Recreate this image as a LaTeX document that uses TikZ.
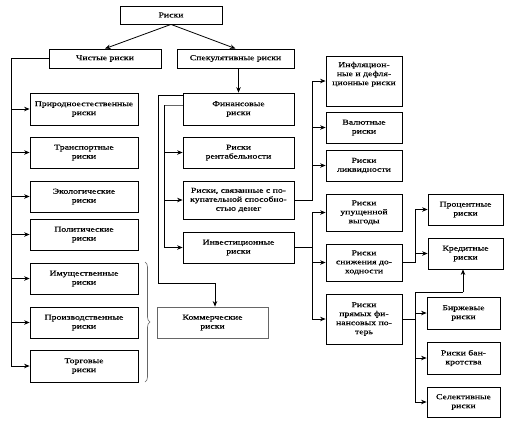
\documentclass[tikz,border=0pt]{standalone}
\usepackage{fontspec}
\setmainfont[FakeStretch=1.3,FakeBold=0.5]{Liberation Serif}
\usetikzlibrary{arrows.meta,decorations.pathreplacing}
\begin{document}
\begin{tikzpicture}[x=1pt,y=-1pt,
  bx/.style={draw, line width=0.8pt, align=center, inner sep=1pt,
    font=\fontsize{7.5}{9}\selectfont},
  ln/.style={line width=0.8pt},
  arr/.style={ln, -{Stealth[length=5.5pt,width=4.5pt]}},
  grayln/.style={line width=0.8pt, draw=black!60}]
\useasboundingbox[fill=white] (0,0) rectangle (508,421);

% top
\node[bx, minimum width=102pt, minimum height=18pt] (risk) at (171,15) {Риски};
\node[bx, minimum width=112pt, minimum height=19pt] (chist) at (105,58.5) {Чистые риски};
\node[bx, minimum width=117pt, minimum height=19pt] (spek) at (235.5,58.5) {Спекулятивные риски};

% left column
\node[bx, minimum width=108pt, minimum height=32pt] (pri) at (84,109) {Природноестественные\\риски};
\node[bx, minimum width=108pt, minimum height=31pt] (tra) at (84,152.5) {Транспортные\\риски};
\node[bx, minimum width=108pt, minimum height=31pt] (eko) at (84,196.5) {Экологические\\риски};
\node[bx, minimum width=108pt, minimum height=31pt] (pol) at (84,234.5) {Политические\\риски};
\node[bx, minimum width=108pt, minimum height=31pt] (imu) at (84,278.5) {Имущественные\\риски};
\node[bx, minimum width=108pt, minimum height=31pt] (pro) at (84,322.5) {Производственные\\риски};
\node[bx, minimum width=108pt, minimum height=32pt] (tor) at (84,366) {Торговые\\риски};

% middle column
\node[bx, minimum width=111pt, minimum height=32pt] (fin) at (238.5,109) {Финансовые\\риски};
\node[bx, minimum width=111pt, minimum height=31pt] (ren) at (238.5,152.5) {Риски\\рентабельности};
\node[bx, minimum width=111pt, minimum height=38pt] (pok) at (238.5,200) {Риски, связанные с по-\\купательной способно-\\стью денег};
\node[bx, minimum width=111pt, minimum height=31pt] (inv) at (238.5,247.5) {Инвестиционные\\риски};
\node[bx, draw=black!60, minimum width=111pt, minimum height=31pt] (kom) at (212.5,322.5) {Коммерческие\\риски};

% right column 1
\node[bx, minimum width=76pt, minimum height=50pt] (inf) at (364,81) {Инфляцион-\\ные и дефля-\\ционные риски\\[6pt]};
\node[bx, minimum width=76pt, minimum height=31pt] (val) at (364,127.5) {Валютные\\риски};
\node[bx, minimum width=76pt, minimum height=31pt] (lik) at (364,165.5) {Риски\\ликвидности};

% right column 2
\node[bx, minimum width=76pt, minimum height=37pt] (upu) at (364,212.5) {Риски\\упущенной\\выгоды};
\node[bx, minimum width=76pt, minimum height=37pt] (sni) at (364,262.5) {Риски\\снижения до-\\ходности};
\node[bx, minimum width=76pt, minimum height=50pt] (pry) at (364,319) {Риски\\прямых фи-\\нансовых по-\\терь};

% right column 3
\node[bx, minimum width=75pt, minimum height=31pt] (prc) at (465.5,209.5) {Процентные\\риски};
\node[bx, minimum width=75pt, minimum height=31pt] (kre) at (465.5,253.5) {Кредитные\\риски};
\node[bx, minimum width=73pt, minimum height=32pt] (bir) at (463.5,313) {Биржевые\\риски};
\node[bx, minimum width=73pt, minimum height=32pt] (ban) at (463.5,358) {Риски бан-\\кротства};
\node[bx, minimum width=73pt, minimum height=30pt] (sel) at (463.5,402) {Селективные\\риски};

% trunk coordinates
\coordinate (lt) at (11,0);
\coordinate (mo) at (158,0);
\coordinate (mi) at (164,0);
\coordinate (r1) at (312,0);
\coordinate (r3) at (415,0);
\coordinate (kup) at (463,292);
\coordinate (fo) at (183,95);
\coordinate (fi) at (183,105);
\coordinate (kt) at (215,283);

% top arrows
\draw[arr] (risk.south) -- (chist.north);
\draw[arr] (risk.south) -- (spek.north);
\draw[arr] (spek.south -| fin.north) -- (fin.north);

% left trunk
\draw[ln] (chist.west) -| (tor.west -| lt);
\foreach \n in {pri,tra,eko,pol,imu,pro,tor}
  \draw[arr] (\n.west -| lt) -- (\n.west);

% brace
\draw[black!60, line width=0.6pt, decorate, decoration={brace, amplitude=5pt}]
  (145,262) -- (145,382);

% middle: commercial
\draw[ln] (fo) -| (kt -| mo) -- (kt);
\draw[arr] (kt) -- (kom.north -| kt);

% middle: inner trunk
\draw[grayln] (fi) -- (fi -| mi);
\draw[ln] (fi -| mi) -- (inv.west -| mi);
\foreach \n in {ren,pok,inv}
  \draw[arr] (\n.west -| mi) -- (\n.west);

% right column 1
\draw[ln] (pok.east) -| (inf.west -| r1);
\foreach \n in {inf,val,lik}
  \draw[arr] (\n.west -| r1) -- (\n.west);

% right column 2
\draw[ln] (inv.east) -- (inv.east -| r1);
\draw[ln] (upu.west -| r1) -- (pry.west -| r1);
\foreach \n in {upu,sni,pry}
  \draw[arr] (\n.west -| r1) -- (\n.west);

% right column 3
\draw[ln] (sni.east) -| (prc.west -| r3);
\foreach \n in {prc,kre}
  \draw[arr] (\n.west -| r3) -- (\n.west);

% right column 4
\draw[ln] (pry.east) -- (pry.east -| r3);
\draw[ln] (kup -| r3) -- (sel.west -| r3);
\draw[ln] (kup -| r3) -- (kup);
\draw[arr] (kup) -- (kre.south -| kup);
\foreach \n in {bir,ban,sel}
  \draw[arr] (\n.west -| r3) -- (\n.west);
\end{tikzpicture}
\end{document}
